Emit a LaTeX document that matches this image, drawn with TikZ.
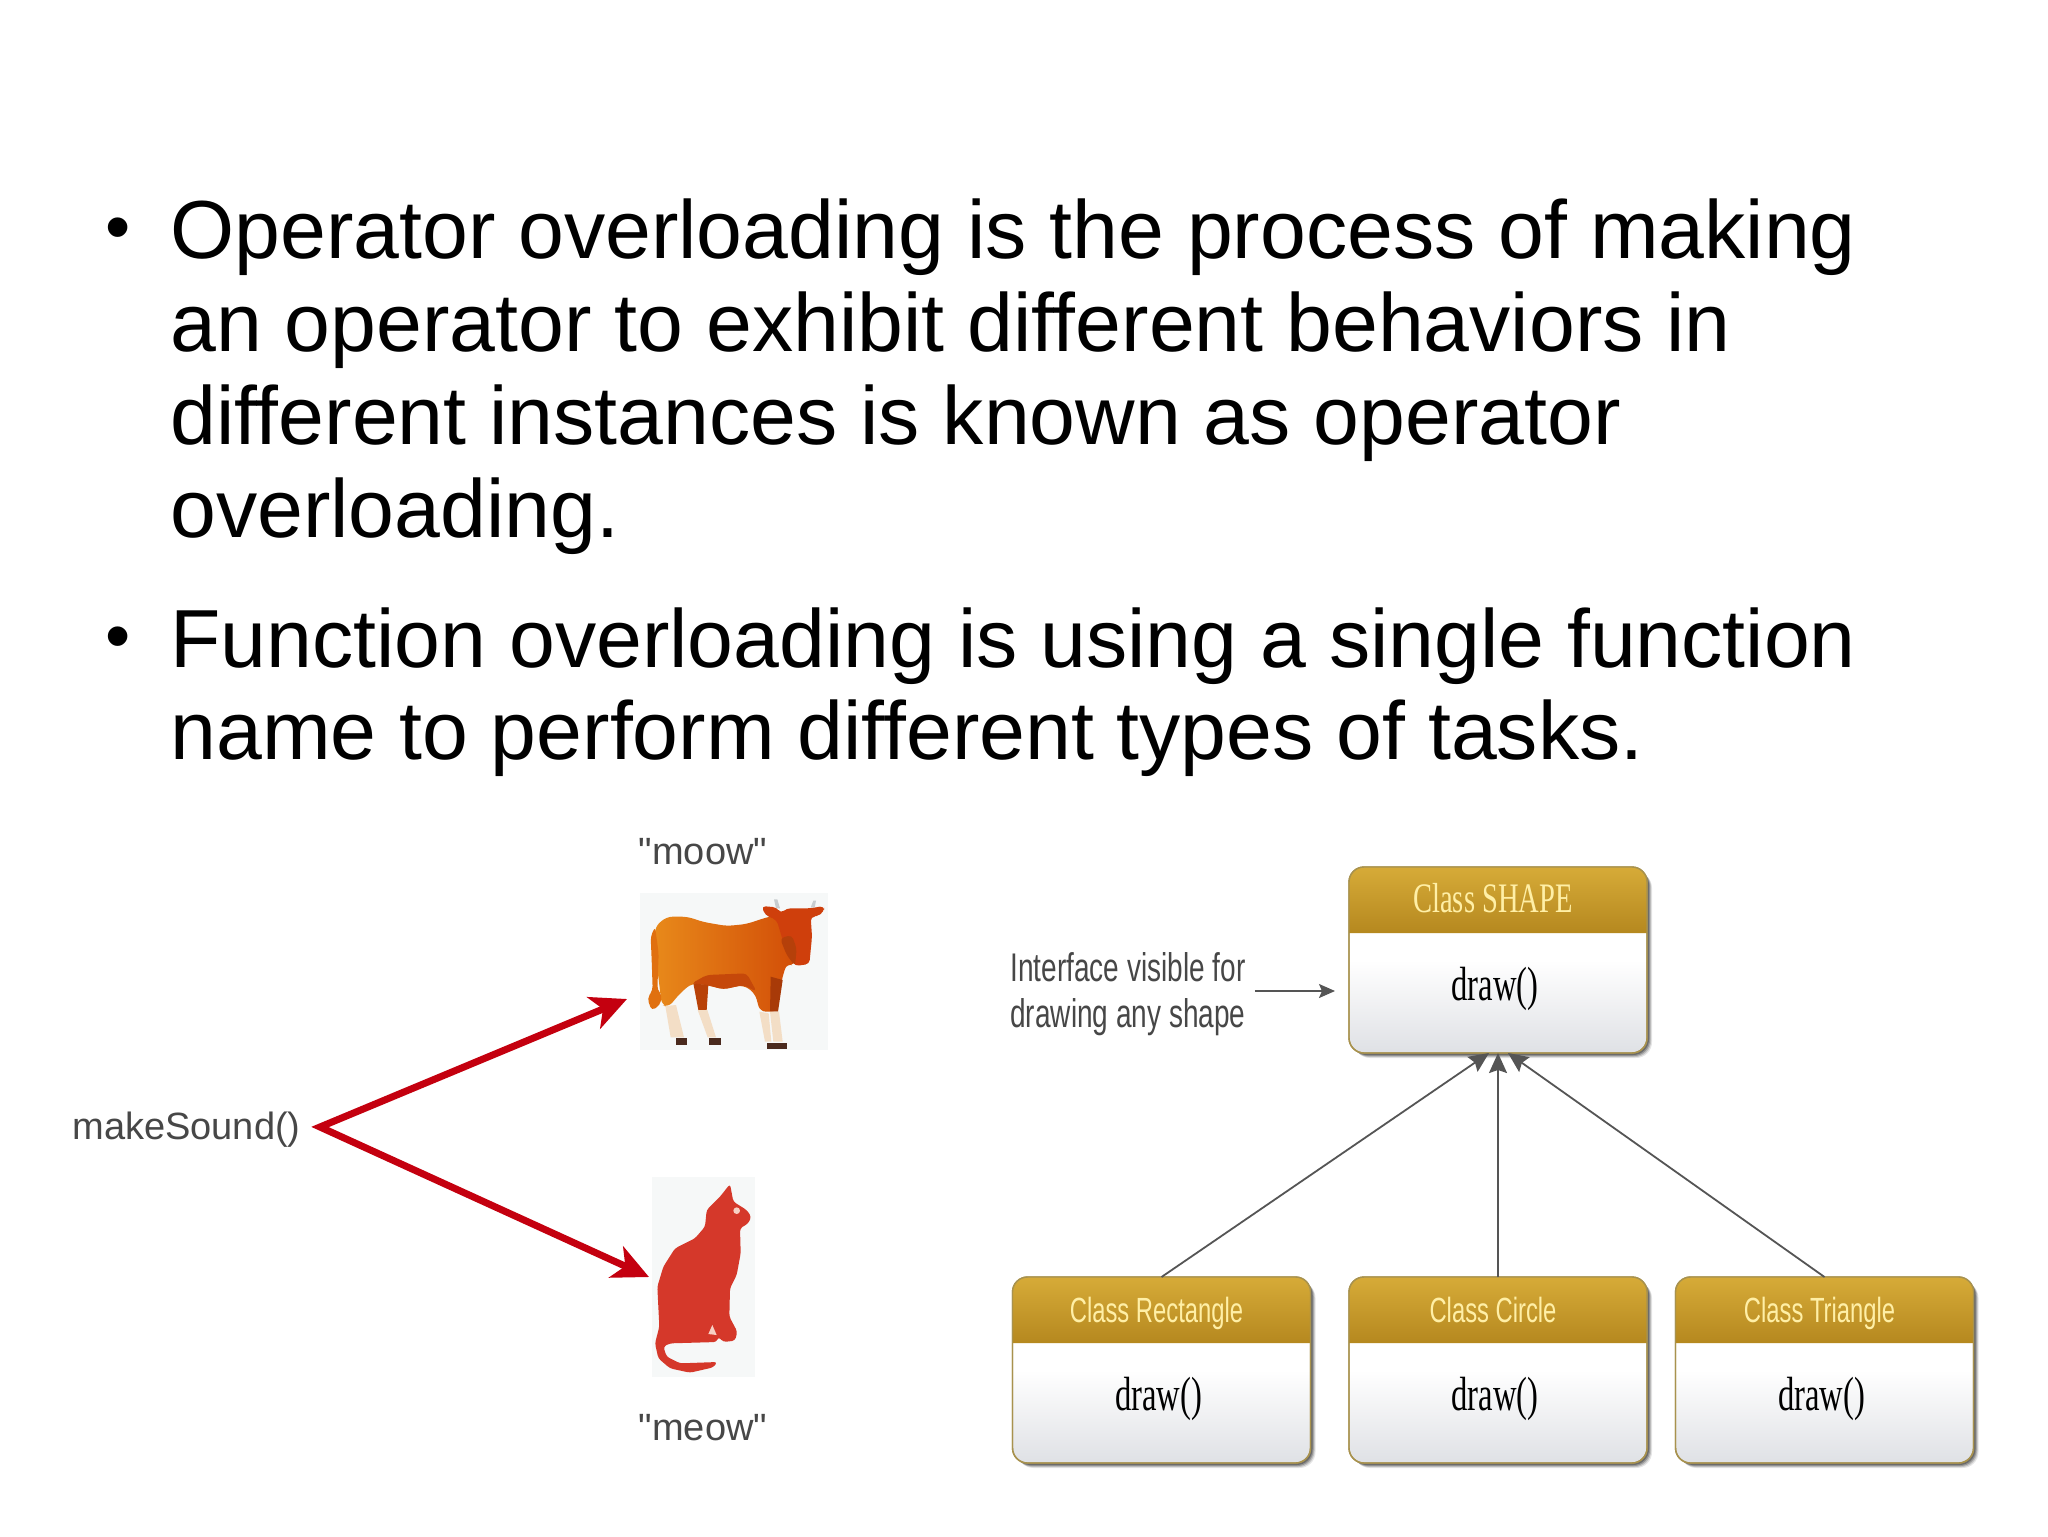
\documentclass[tikz,border=0pt]{standalone}
\usepackage{fontspec}
\usetikzlibrary{arrows.meta,calc}
\setmainfont{Liberation Sans}
\newfontfamily\plainsans{Liberation Sans}
\newfontfamily\serifcond[FakeStretch=0.68]{Liberation Serif}
\newfontfamily\sanscond[FakeStretch=0.70]{Liberation Sans}
\newfontfamily\sanstitle[FakeStretch=0.68]{Liberation Sans}
\definecolor{arrowred}{HTML}{C4000F}
\definecolor{imgbg}{HTML}{F6F8F8}
\definecolor{labelgray}{HTML}{474747}
\definecolor{hdrtop}{HTML}{D6AB38}
\definecolor{hdrbot}{HTML}{B5881F}
\definecolor{hdrtext}{HTML}{FFEFA6}
\definecolor{boxedge}{HTML}{A8924E}
\definecolor{boxbot}{HTML}{DFE1E5}
\definecolor{connector}{HTML}{555555}
\definecolor{catred}{HTML}{D5382A}
\definecolor{catlight}{HTML}{F7D0C4}
\definecolor{cowa}{HTML}{E8891A}
\definecolor{cowb}{HTML}{D24E08}
\definecolor{cowtail}{HTML}{E0700F}
\definecolor{cowbelly}{HTML}{C5480A}
\definecolor{cowlega}{HTML}{B84208}
\definecolor{cowlegb}{HTML}{A83A08}
\definecolor{cowhead}{HTML}{CF3F0C}
\definecolor{cowneck}{HTML}{B5400A}
\definecolor{cowsock}{HTML}{F3DEC6}
\definecolor{cowhoof}{HTML}{4A2A1E}
\definecolor{cowhorn}{HTML}{C8CDD0}
\tikzset{
  bodytext/.style={anchor=base west,inner sep=0pt,font=\fontsize{41.2}{46.5}\selectfont,text=black},
  bulletmark/.style={inner sep=0pt,font=\fontsize{36}{40}\selectfont,text=black},
  soundlabel/.style={inner sep=0pt,font=\plainsans\fontsize{19}{22}\selectfont,text=labelgray},
  imagebg/.style={draw=none,fill=imgbg,inner sep=0pt,outer sep=0pt},
  classbody/.style={rectangle,rounded corners=7.5pt,minimum width=149pt,minimum height=93pt,inner sep=0pt,outer sep=0pt,draw=boxedge,line width=.7pt,top color=white,bottom color=boxbot,middle color=white},
  classhead/.style={top color=hdrtop,bottom color=hdrbot,draw=none},
  classtitle/.style={inner sep=0pt,anchor=base,text=hdrtext},
  methodtext/.style={inner sep=0pt,anchor=base,text=black,font=\serifcond\fontsize{24}{26}\selectfont},
  inherit/.style={draw=connector,line width=.9pt,-{Stealth[length=10pt,width=9pt,inset=1.5pt]}},
}
\newcommand{\classbox}[5]{%
  \foreach \blur/\op in {5/.10,4/.16,3/.22,2/.28}{
    \fill[black,opacity=\op,rounded corners=8pt] (#2-149+\blur,#3+\blur) rectangle (#2+149+\blur,#3+186+\blur);
  }
  \node[classbody] (#1) at (#2,#3+93) {};
  \coordinate (#1h) at ($(#1.north west)+(0,66)$);
  \path[classhead] (#1h) [rounded corners=7.5pt] -- (#1.north west) -- (#1.north east) [sharp corners] -- (#1h -| #1.north east) -- cycle;
  \draw[boxedge,line width=.7pt,rounded corners=7.5pt] (#1.south west) rectangle (#1.north east);
  \node[classtitle,font=#5] (#1title) at (#2-5,#3+45) {#4};
  \node[methodtext] (#1method) at (#2-3,#3+133) {draw()};
}
\begin{document}
\begin{tikzpicture}[x=.5pt,y=-.5pt]
\useasboundingbox[fill=white] (0,0) rectangle (2048,1536);
% bullets
\node[bulletmark] (b1) at (118,235) {•};
\node[bulletmark] (b2) at (118,644) {•};
\node[bodytext] (l1) at (170,258.6) {Operator overloading is the process of making};
\node[bodytext] (l2) at (170,351) {an operator to exhibit different behaviors in};
\node[bodytext] (l3) at (170,444) {different instances is known as operator};
\node[bodytext] (l4) at (170,537) {overloading.};
\node[bodytext] (l5) at (170,667) {Function overloading is using a single function};
\node[bodytext] (l6) at (170,759) {name to perform different types of tasks.};
% left figure
\node[soundlabel,anchor=west] (sound) at (72,1130) {makeSound()};
\node[soundlabel] (moow) at (703,852) {"moow"};
\node[soundlabel] (meow) at (703,1428) {"meow"};
\node[imagebg,minimum width=94pt,minimum height=78.5pt] (cow) at (734,971.5) {};
\node[imagebg,minimum width=51.5pt,minimum height=100pt] (cat) at (703,1277) {};
% cow
\begin{scope}[shift={(600,820)},x=.16667pt,y=-.16667pt]
  \path[left color=cowa,right color=cowb,rounded corners=3pt] (165,320) -- (200,290) -- (262,290) -- (310,306) -- (380,318) -- (440,312) -- (490,295) -- (530,285) -- (585,438) -- (560,430) -- (545,480) -- (532,575) -- (480,575) -- (465,520) -- (430,495) -- (370,508) -- (320,495) -- (275,490) -- (240,520) -- (205,562) -- (185,555) -- (175,470) -- (165,400) -- cycle;
  \fill[cowtail,rounded corners=2pt] (152,350) -- (165,320) -- (176,400) -- (172,510) -- (186,525) -- (180,555) -- (155,572) -- (142,535) -- (158,510) -- (155,420) -- cycle;
  \fill[cowbelly,rounded corners=2pt] (275,490) -- (320,465) -- (440,460) -- (470,515) -- (430,495) -- (370,508) -- (320,495) -- cycle;
  \fill[cowlega] (280,490) -- (325,495) -- (320,570) -- (295,570) -- cycle;
  \fill[cowlegb] (512,470) -- (548,480) -- (534,575) -- (510,575) -- cycle;
  \fill[cowhorn] (522,238) -- (532,238) -- (540,265) -- (528,265) -- cycle;
  \fill[cowhorn] (640,242) -- (648,242) -- (644,262) -- (632,262) -- cycle;
  \fill[cowhead,rounded corners=2pt] (485,258) -- (530,262) -- (542,280) -- (560,265) -- (630,265) -- (672,258) -- (672,275) -- (650,290) -- (632,290) -- (636,350) -- (628,432) -- (585,438) -- (560,400) -- (545,350) -- (530,300) -- (495,285) -- cycle;
  \fill[cowneck,rounded corners=2pt] (540,355) -- (575,345) -- (590,385) -- (585,438) -- (560,405) -- cycle;
  \fill[cowsock] (196,558) -- (228,555) -- (252,652) -- (212,652) -- cycle;
  \fill[cowsock] (293,570) -- (322,570) -- (348,652) -- (323,652) -- cycle;
  \fill[cowsock] (478,575) -- (506,580) -- (514,665) -- (495,665) -- cycle;
  \fill[cowsock] (510,575) -- (537,575) -- (548,665) -- (520,665) -- cycle;
  \fill[cowhoof] (228,655) rectangle (262,674);
  \fill[cowhoof] (328,655) rectangle (362,676);
  \fill[cowhoof] (500,668) rectangle (562,686);
\end{scope}
% cat
\begin{scope}[shift={(620,1160)},x=.16667pt,y=-.16667pt]
  \fill[catred,rounded corners=1.5pt] (330,72) -- (340,125) -- (380,150) -- (394,170) -- (385,190) -- (360,205) -- (362,280) -- (350,345) -- (330,385) -- (328,470) -- (352,515) -- (345,542) -- (310,546) -- (295,530) -- (290,546) -- (150,550) -- (130,560) -- (140,590) -- (180,610) -- (292,606) -- (280,622) -- (210,638) -- (150,625) -- (115,595) -- (105,550) -- (118,500) -- (112,380) -- (130,320) -- (165,265) -- (225,235) -- (255,200) -- (260,150) -- (300,110) -- cycle;
  \fill[catlight] (350,152) circle (10);
  \fill[catlight] (277,495) -- (290,525) -- (265,522) -- cycle;
\end{scope}
% red arrows
\coordinate (src) at (320,1127);
\coordinate (cowtip) at (627,999);
\coordinate (cattip) at (649,1277);
\draw[arrowred,line width=3.5pt,miter limit=10,{Stealth[length=18pt,width=17pt,inset=5pt]}-{Stealth[length=18pt,width=17pt,inset=5pt]}] (cowtip) -- (src) -- (cattip);
% class boxes
\classbox{shape}{1498}{867}{Class SHAPE}{\serifcond\fontsize{21}{24}\selectfont}
\classbox{rect}{1161.5}{1277}{Class Rectangle}{\sanstitle\fontsize{17.5}{20}\selectfont}
\classbox{circ}{1498}{1277}{Class Circle}{\sanstitle\fontsize{17.5}{20}\selectfont}
\classbox{tri}{1824.5}{1277}{Class Triangle}{\sanstitle\fontsize{17.5}{20}\selectfont}
% interface label
\node[inner sep=0pt,anchor=west,align=left,text=labelgray,font=\sanscond\fontsize{20}{23}\selectfont] (iface) at (1010,994) {Interface visible for\\drawing any shape};
\draw[connector,line width=.9pt,-{Stealth[length=8pt,width=7pt,inset=1.5pt]},shorten <=4.5pt,shorten >=7pt] ([yshift=1.5pt]iface.east) -- ([yshift=1.5pt]iface.east -| shape.west);
% inheritance
\draw[inherit] (rect.north) -- ([xshift=-4.5pt]shape.south);
\draw[inherit] (circ.north) -- (shape.south);
\draw[inherit] (tri.north) -- ([xshift=5pt]shape.south);
\end{tikzpicture}
\end{document}
